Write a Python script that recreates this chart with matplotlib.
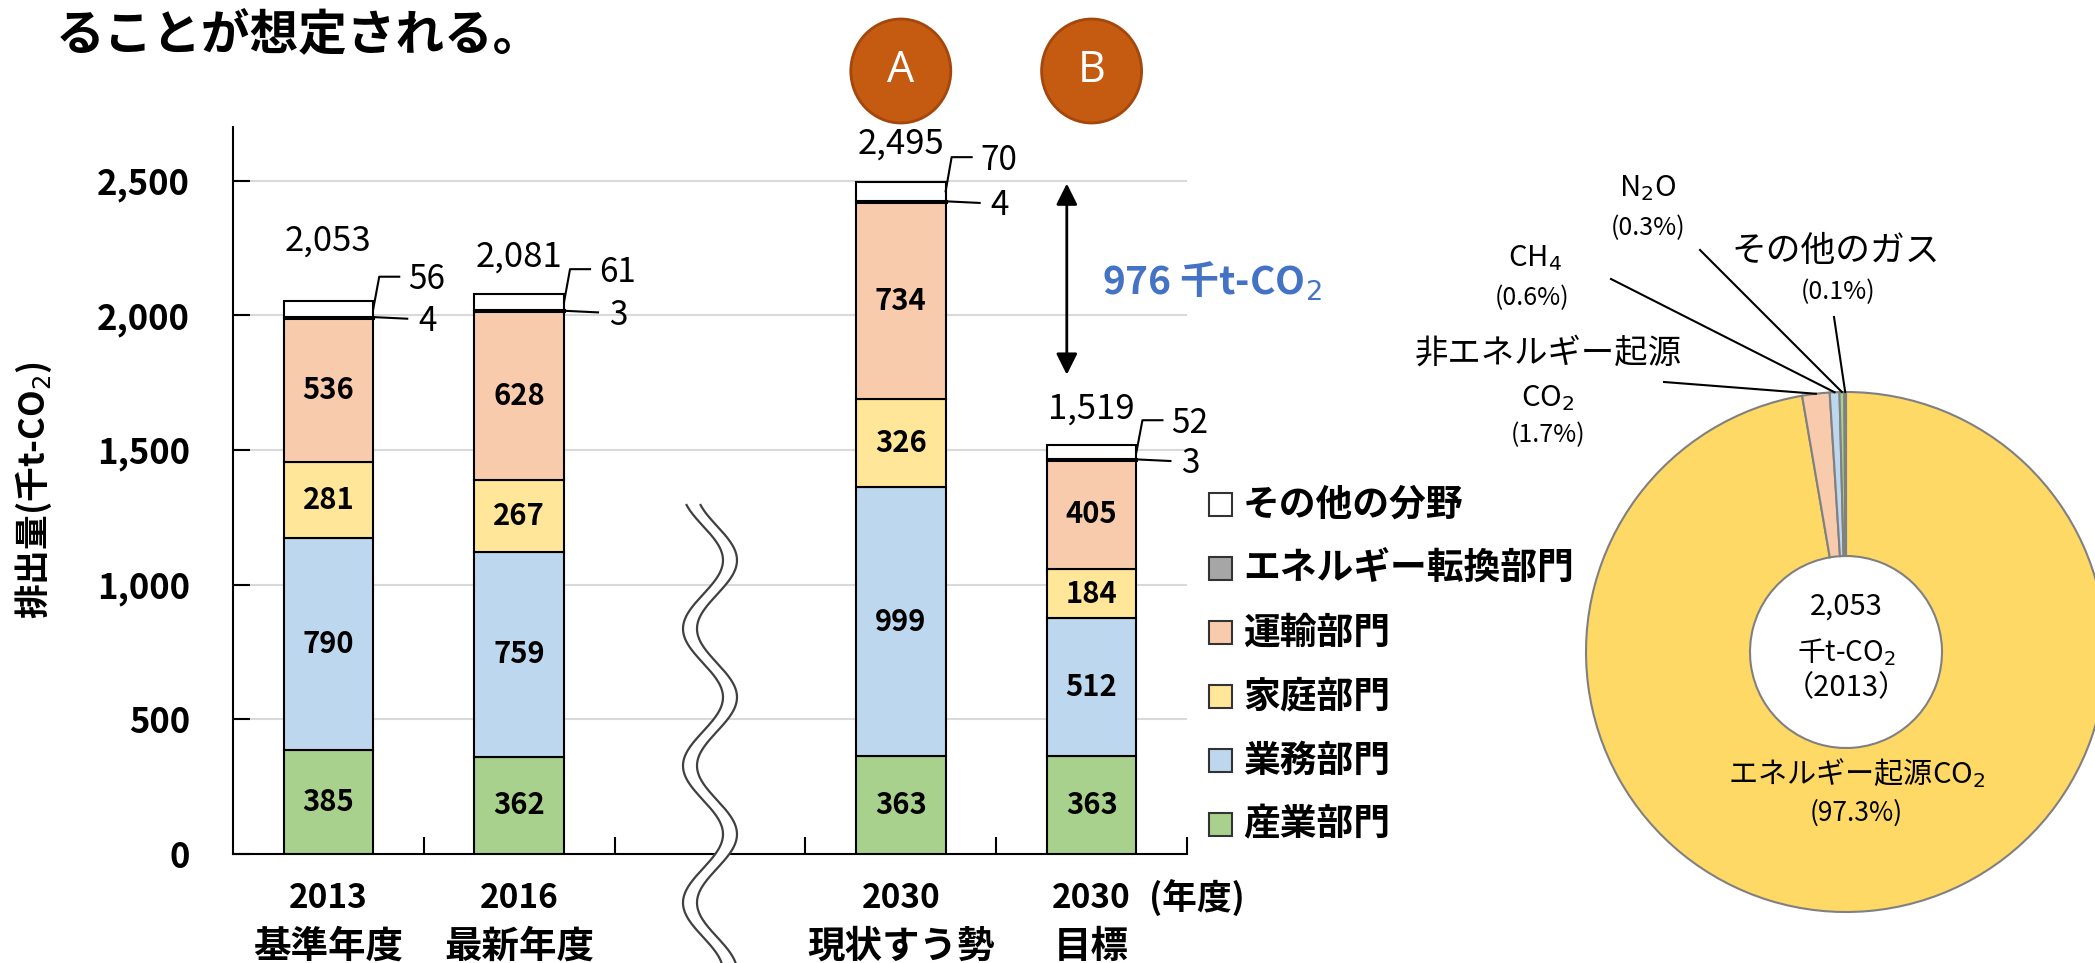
import numpy as np
import matplotlib.pyplot as plt
import matplotlib.transforms as mtransforms
from matplotlib.patches import Ellipse, Rectangle, Polygon

plt.rcParams['font.family'] = ['Noto Sans CJK JP', 'DejaVu Sans']

W, H = 2095, 963

# 部門別 CO2 排出量（千t-CO2）
years = ['2013', '2016', '2030', '2030']
cases = ['基準年度', '最新年度', '現状すう勢', '目標']
sangyo = [385, 362, 363, 363]
gyomu = [790, 759, 999, 512]
katei = [281, 267, 326, 184]
unyu = [536, 628, 734, 405]
tenkan = [4, 3, 4, 3]
sonota = [56, 61, 70, 52]
totals = [2053, 2081, 2495, 1519]
reduction = 976

sectors = ['産業部門', '業務部門', '家庭部門', '運輸部門', 'エネルギー転換部門', 'その他の分野']
sector_colors = ['#A9D18E', '#BDD7EE', '#FFE699', '#F8CBAD', '#A6A6A6', '#FFFFFF']

# 2013年度 温室効果ガス別の内訳（%）
gas_share = [97.3, 1.7, 0.6, 0.3, 0.1]
gas_colors = ['#FFD966', '#F8CBAD', '#BDD7EE', '#A9D18E', '#A6A6A6']


def fx(px):
    return px / W


def fy(py):
    return 1 - py / H


fig = plt.figure(figsize=(W / 100, H / 100), dpi=100)
ax = fig.add_axes([fx(233), fy(854), (1187 - 233) / W, (854 - 127) / H])
slot = (1187 - 233) / 5          # px per category slot
bw = 0.47
xpos = np.array([0, 1, 3, 4])
# x in data units, y in figure fraction
trans_b = mtransforms.blended_transform_factory(ax.transData, fig.transFigure)

# stacked bars
layers = [sangyo, gyomu, katei, unyu, tenkan, sonota]
bottom = np.zeros(len(xpos))
bottoms = []
for vals, name, c in zip(layers, sectors, sector_colors):
    ax.bar(xpos, vals, bw, bottom=bottom, color=c, edgecolor='black',
           linewidth=2.2 if vals is tenkan else 1.5, zorder=3, label=name)
    bottoms.append(bottom.copy())
    bottom = bottom + np.array(vals)

# values inside the four main segments
for vals, bots in zip(layers[:4], bottoms[:4]):
    for x, v, b in zip(xpos, vals, bots):
        ax.text(x, b + v / 2, str(v), ha='center', va='center',
                fontsize=21, fontweight='bold', zorder=4)

# totals above the bars
total_dy = [226, 136, 141, 134]
for x, t, top, d in zip(xpos, totals, bottom, total_dy):
    ax.text(x, top + d, f'{t:,}', ha='center', va='center', fontsize=25)

# leader labels for the thin segments
for i, x in enumerate(xpos):
    r = x + bw / 2
    top = bottom[i]
    # その他の分野
    y_mid = bottoms[5][i] + sonota[i] / 2
    y_line = top + 92
    ax.plot([r, r + 6 / slot, r + 26 / slot], [y_mid, y_line, y_line],
            color='black', lw=1.5, zorder=4, clip_on=False)
    ax.text(r + 35 / slot, y_line - 12, str(sonota[i]), ha='left', va='center', fontsize=24)
    # エネルギー転換部門
    y_t = bottoms[4][i] + tenkan[i] / 2
    ax.plot([r, r + 34 / slot], [y_t, y_t - 6], color='black', lw=1.5, zorder=4, clip_on=False)
    ax.text(r + 45 / slot, y_t - 16, str(tenkan[i]), ha='left', va='center', fontsize=24)

# reduction arrow between 現状すう勢 and 目標
ax.annotate('', xy=(3.87, 2490), xytext=(3.87, 1780),
            arrowprops=dict(arrowstyle='<|-|>', color='black', lw=2,
                            mutation_scale=32, shrinkA=0, shrinkB=0))
ax.text(4.055, 2127, f'{reduction} 千t-CO$_2$', color='#4472C4', fontsize=28,
        fontweight='bold', ha='left', va='center')

# scenario markers
for x, letter in zip([3, 4], ['A', 'B']):
    ax.add_patch(Ellipse((x, fy(71)), 100 / slot, 104 / H, transform=trans_b,
                         facecolor='#C55A11', edgecolor='#A4470D', lw=2, clip_on=False))
    ax.text(x, fy(71), letter, transform=trans_b, color='white', fontsize=31,
            ha='center', va='center', family='Open Sans')

# axes styling
ax.set_axisbelow(True)
ax.yaxis.grid(True, color='#D9D9D9', lw=1.5, zorder=0)
ax.spines[['top', 'right']].set_visible(False)
ax.spines[['left', 'bottom']].set_linewidth(1.5)
ax.set_yticks(range(0, 2501, 500))
ax.set_yticklabels([f'{v:,}' for v in range(0, 2501, 500)], fontsize=25, fontweight='bold')
ax.tick_params(axis='y', direction='in', length=12, width=1.5, pad=31)
ax.set_xticks([0.5, 1.5, 2.5, 3.5, 4.5])
ax.set_xticklabels([])
ax.tick_params(axis='x', direction='in', length=12, width=1.5)
ax.set_ylabel('排出量(千t-CO$_2$)', fontsize=25, fontweight='bold')
ax.yaxis.set_label_coords((54 - 233) / 954, 0.5)

xt = ax.get_xaxis_transform()
for x, yr, cs in zip(xpos, years, cases):
    ax.text(x, (854 - 898) / 727, yr, transform=xt, ha='center', va='center',
            fontsize=24, fontweight='bold')
    ax.text(x, (854 - 946) / 727, cs, transform=xt, ha='center', va='center',
            fontsize=27, fontweight='bold')
ax.text(4.3, (854 - 898) / 727, '(年度)', transform=xt, ha='left', va='center',
        fontsize=25, fontweight='bold')

# axis break between actual and 2030 bars
ys = np.linspace(505, 975, 400)
xc = 2.0 + (20 / slot) * np.sin(2 * np.pi * (ys - 526) / 137)
off = 7 / slot
verts = np.concatenate([np.column_stack([xc - off, fy(ys)]),
                        np.column_stack([xc + off, fy(ys)])[::-1]])
ax.add_patch(Polygon(verts, closed=True, transform=trans_b, facecolor='white',
                     edgecolor='none', zorder=5, clip_on=False))
for sgn in (-1, 1):
    ax.plot(xc + sgn * off, fy(ys), transform=trans_b, color='#404040', lw=1.6,
            zorder=6, clip_on=False)

ax.set_xlim(-0.5, 4.5)
ax.set_ylim(0, 2700)

# legend
for k, (name, c) in enumerate(zip(sectors[::-1], sector_colors[::-1])):
    yy = 505 + k * 64
    fig.add_artist(Rectangle((fx(1209), fy(yy + 11)), 23 / W, 23 / H,
                             facecolor=c, edgecolor='#333333', lw=1.5))
    fig.text(fx(1243), fy(yy), name, fontsize=26.5, fontweight='bold', va='center')

fig.text(fx(56), fy(50), 'ることが想定される。', fontsize=35, fontweight='bold',
         va='baseline')

# donut of 2013 greenhouse gas composition
PCX, PCY, PR = 1846, 652, 260
ax2 = fig.add_axes([fx(PCX - PR), fy(PCY + PR), 2 * PR / W, 2 * PR / H])
ax2.pie(gas_share, colors=gas_colors, startangle=90, counterclock=False, radius=1,
        wedgeprops=dict(width=1 - 96 / PR, edgecolor='#808080', linewidth=1.5))
ax2.set_xlim(-1, 1)
ax2.set_ylim(-1, 1)
ax2.axis('off')


def pp(px, py):
    return (px - PCX) / PR, (PCY - py) / PR


cum = np.cumsum(gas_share) - np.array(gas_share) / 2
ang = np.deg2rad(90 - 3.6 * cum)
starts = {1: (1664, 382), 2: (1611, 279), 3: (1700, 250), 4: (1834, 317)}
for k, (sx, sy) in starts.items():
    x0, y0 = pp(sx, sy)
    ax2.plot([x0, np.cos(ang[k])], [y0, np.sin(ang[k])], color='black', lw=1.5,
             clip_on=False)

labels = [
    ((1648, 188), 'N$_2$O', 21), ((1648, 228), f'({gas_share[3]}%)', 18),
    ((1535, 258), 'CH$_4$', 21), ((1532, 298), f'({gas_share[2]}%)', 18),
    ((1836, 252), 'その他のガス', 25), ((1838, 292), f'({gas_share[4]}%)', 18),
    ((1548, 353), '非エネルギー起源', 24), ((1548, 398), 'CO$_2$', 21),
    ((1548, 435), f'({gas_share[1]}%)', 18),
    ((1846, 607), f'{totals[0]:,}', 21), ((1846, 652), '千t-CO$_2$', 20),
    ((1846, 688), '（2013）', 21),
    ((1857, 773), 'エネルギー起源CO$_2$', 21), ((1856, 813), f'({gas_share[0]}%)', 19),
]
for (px, py), s, fs in labels:
    x, y = pp(px, py)
    ax2.text(x, y, s, ha='center', va='center', fontsize=fs, clip_on=False)

fig.savefig('out.png', dpi=100)
